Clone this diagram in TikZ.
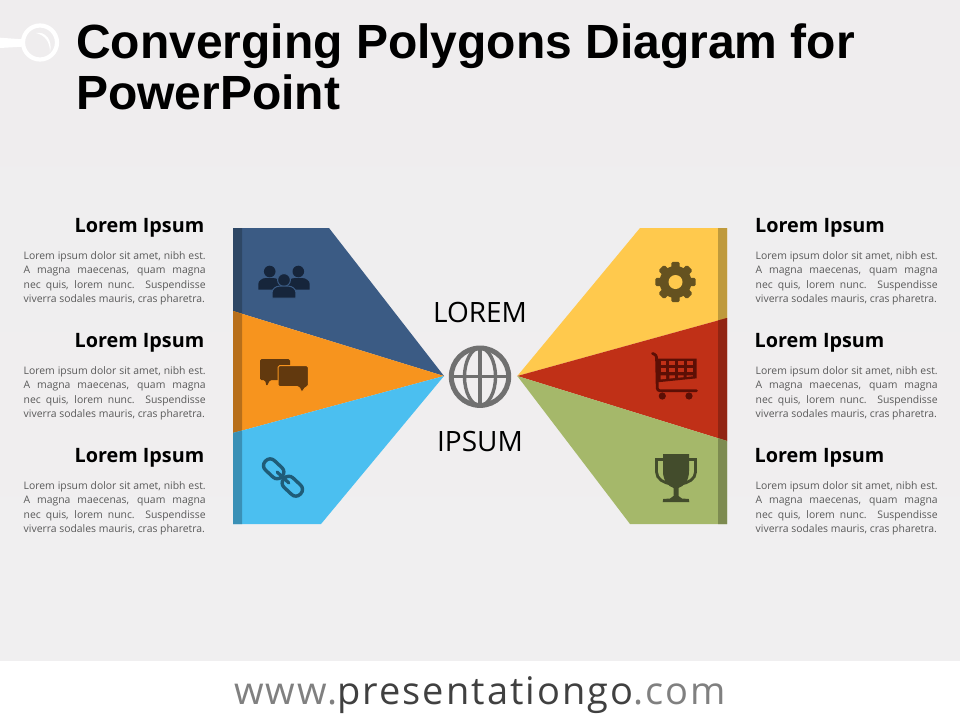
\documentclass[tikz,border=0pt]{standalone}
\usepackage{fontspec}
\setmainfont{Open Sans}
\newfontfamily\titlefont{Liberation Sans}
\definecolor{bgtop}{HTML}{EFEDEE}
\definecolor{bgbottom}{HTML}{F0EFF0}
\definecolor{navyfill}{HTML}{3B5B84}
\definecolor{navystrip}{HTML}{2E4765}
\definecolor{navyicon}{HTML}{16253B}
\definecolor{orangefill}{HTML}{F7941E}
\definecolor{orangestrip}{HTML}{B86F1A}
\definecolor{orangeicon}{HTML}{62390E}
\definecolor{skyfill}{HTML}{4BBFF0}
\definecolor{skystrip}{HTML}{3A90B6}
\definecolor{skyicon}{HTML}{1F5C78}
\definecolor{yellowfill}{HTML}{FFC94D}
\definecolor{yellowstrip}{HTML}{BF9A3C}
\definecolor{yellowicon}{HTML}{655220}
\definecolor{redfill}{HTML}{C03017}
\definecolor{redstrip}{HTML}{912412}
\definecolor{redicon}{HTML}{5C0F05}
\definecolor{greenfill}{HTML}{A5B86A}
\definecolor{greenstrip}{HTML}{7D8B50}
\definecolor{greenicon}{HTML}{434C2C}
\definecolor{globegrey}{HTML}{707070}
\definecolor{bodygrey}{HTML}{595959}
\newcommand{\loremtext}{\parfillskip=0pt Lorem ipsum dolor sit amet, nibh est.\linebreak A magna maecenas, quam magna\linebreak nec quis, lorem nunc. Suspendisse\linebreak viverra sodales mauris, cras pharetra.}
\tikzset{
headtext/.style={inner sep=0pt, font=\fontsize{19.8}{24}\selectfont\bfseries, text=black},
bodytext/.style={inner sep=0pt, anchor=north west, text width=182pt, align=justify, font=\fontsize{10.4}{14.5}\selectfont, text=bodygrey},
midtext/.style={inner sep=0pt, font=\fontsize{28}{34}\selectfont, text=black},
people/.pic={
  \fill[navyicon] (-14.3,-9.5) circle [radius=5.8];
  \fill[navyicon] (14.3,-9.5) circle [radius=5.8];
  \fill[navyicon] (-25.7,8.5) -- (-25.7,3) .. controls (-25.7,0) and (-22,-3) .. (-18,-3) -- (-11,-3) .. controls (-7,-3) and (-3,0) .. (-3,3) -- (-3,8.5) -- cycle;
  \fill[navyicon] (25.7,8.5) -- (25.7,3) .. controls (25.7,0) and (22,-3) .. (18,-3) -- (11,-3) .. controls (7,-3) and (3,0) .. (3,3) -- (3,8.5) -- cycle;
  \fill[navyicon, draw=navyfill, line width=1pt] (0,-1) circle [radius=6.4];
  \fill[navyicon, draw=navyfill, line width=1pt] (-11.8,17) -- (-11.8,11) .. controls (-11.8,8) and (-8,5.2) .. (-5,5.2) -- (5,5.2) .. controls (8,5.2) and (11.8,8) .. (11.8,11) -- (11.8,17) -- cycle;
  },
bubbles/.pic={
  \fill[orangeicon, rounded corners=1.5pt] (-24,-17) -- (6,-17) -- (6,4) -- (-14,4) -- (-17.3,10.5) -- (-19,4) -- (-24,4) -- cycle;
  \fill[orangeicon, draw=orangefill, line width=1pt, rounded corners=1.5pt] (-6,-10.3) -- (24.3,-10.3) -- (24.3,10.7) -- (22,10.7) -- (17.7,16.5) -- (15,10.7) -- (-6,10.7) -- cycle;
  },
chainlink/.pic={
  \draw[skyicon, line width=3.4pt, rounded corners=6pt, rotate=-43] (-24,-6.5) rectangle (-1.5,6.5);
  \draw[skyicon, line width=3.4pt, rounded corners=6pt, rotate=-43] (1.5,-6.5) rectangle (24,6.5);
  \draw[skyicon, line width=3.2pt, line cap=round, rotate=-43] (-8,0) -- (8,0);
  },
gear/.pic={
  \foreach \ang in {0,45,...,315} {
    \fill[yellowicon, rotate=\ang, rounded corners=1.5pt] (-4.2,-20.2) rectangle (4.2,0);
  }
  \fill[yellowicon] (0,0) circle [radius=16];
  \fill[yellowfill] (0,0) circle [radius=7];
  },
cart/.pic={
  \draw[redicon, line width=2.8pt, line cap=round, rounded corners=2.5pt] (-23.5,-26.5) -- (-19.5,-25) -- (-18.7,10.7) -- (20.5,10.7);
  \fill[redicon] (-18.7,-21.5) -- (20.7,-21.5) -- (20.7,-1.7) -- (-18.7,2.3) -- cycle;
  \foreach \cx/\cw in {-15.5/5.6,-6.7/5.6,2/5.6,10.7/6.2} {
    \fill[redfill] (\cx,-18.7) rectangle ++(\cw,3.9);
    \fill[redfill] (\cx,-11.7) rectangle ++(\cw,4);
  }
  \fill[redfill] (-15.5,-4.7) -- (-9.9,-4.7) -- (-9.9,-1.1) -- (-15.5,-0.6) -- cycle;
  \fill[redfill] (-6.7,-4.7) -- (-1.1,-4.7) -- (-1.1,-2) -- (-6.7,-1.4) -- cycle;
  \fill[redfill] (2,-4.7) -- (7.6,-4.7) -- (7.6,-2.8) -- (2,-2.3) -- cycle;
  \fill[redfill] (10.7,-4.7) -- (16.9,-4.7) -- (16.9,-3.7) -- (10.7,-3.1) -- cycle;
  \fill[redicon] (-13.7,16) circle [radius=3.6];
  \fill[redicon] (13,16) circle [radius=3.6];
  },
trophy/.pic={
  \draw[greenicon, line width=2.8pt] (-11,-18.5) -- (-19.5,-18.5) -- (-19.5,-6) .. controls (-19.5,1) and (-12,5) .. (-5,6);
  \draw[greenicon, line width=2.8pt] (11,-18.5) -- (19.5,-18.5) -- (19.5,-6) .. controls (19.5,1) and (12,5) .. (5,6);
  \fill[greenicon] (-13,-24) -- (13,-24) -- (13,-7) .. controls (13,3) and (8,8) .. (2.5,10) -- (2.5,18) -- (6,20.5) -- (12.8,21) -- (13.3,24) -- (-13.3,24) -- (-12.8,21) -- (-6,20.5) -- (-2.5,18) -- (-2.5,10) .. controls (-8,8) and (-13,3) .. (-13,-7) -- cycle;
  },
globe/.pic={
  \draw[globegrey, line width=5pt] (0,0) circle [radius=28.7];
  \draw[globegrey, line width=3.4pt] (0,0) ellipse [x radius=15.5, y radius=28.7];
  \draw[globegrey, line width=3.4pt] (0,-28.7) -- (0,28.7);
  \draw[globegrey, line width=3.4pt] (-28.7,0) -- (28.7,0);
  }
}
\begin{document}
\begin{tikzpicture}[x=1pt,y=-1pt]
\useasboundingbox (0,0) rectangle (960,720);
\shade[top color=bgtop, bottom color=bgbottom] (0,0) rectangle (960,661);
\fill[white] (0,661) rectangle (960,720);

\fill[white] (0,37.7) -- (22,39.3) -- (22,46.7) -- (0,48) -- cycle;
\draw[white, line width=4.2pt] (40,42.5) circle [radius=17];
\fill[white] (36,33) .. controls (45,31) and (53,40) .. (50,52) .. controls (50,42) and (45,35) .. (36,33);

\node[anchor=base west, inner sep=0pt, align=left, font=\titlefont\fontsize{48}{51}\selectfont\bfseries] (title) at (76,109) {Converging Polygons Diagram for\\PowerPoint};

\fill[navyfill] (233,228) -- (329,228) -- (444,376) -- (233,311) -- cycle;
\fill[navystrip] (233,228) -- (242,228) -- (242,313.8) -- (233,311) -- cycle;
\fill[orangefill] (233,311) -- (444,376) -- (233,433) -- cycle;
\fill[orangestrip] (233,311) -- (242,313.8) -- (242,430.6) -- (233,433) -- cycle;
\fill[skyfill] (233,433) -- (444,376) -- (321,524) -- (233,524) -- cycle;
\fill[skystrip] (233,433) -- (242,430.6) -- (242,524) -- (233,524) -- cycle;

\fill[yellowfill] (640,228) -- (727,228) -- (727,318) -- (517.3,376) -- cycle;
\fill[yellowstrip] (718,228) -- (727,228) -- (727,318) -- (718,320.5) -- cycle;
\fill[redfill] (727,318) -- (727,441) -- (517.3,376) -- cycle;
\fill[redstrip] (718,320.5) -- (727,318) -- (727,441) -- (718,438.2) -- cycle;
\fill[greenfill] (727,441) -- (727,524) -- (630,524) -- (517.3,376) -- cycle;
\fill[greenstrip] (718,438.2) -- (727,441) -- (727,524) -- (718,524) -- cycle;

\pic at (284,281) {people};
\pic at (284,376) {bubbles};
\pic at (283,477.5) {chainlink};
\pic at (675.5,282) {gear};
\pic at (676,380) {cart};
\pic at (676,478) {trophy};
\pic at (480,376.7) {globe};

\node[midtext, anchor=base] (lorem) at (480,322) {LOREM};
\node[midtext, anchor=base] (ipsum) at (480,451) {IPSUM};

\node[headtext, anchor=base east] (headA) at (204.5,232) {Lorem Ipsum};
\node[bodytext] (bodyA) at (23.5,251) {\loremtext};
\node[headtext, anchor=base east] (headB) at (204.5,347) {Lorem Ipsum};
\node[bodytext] (bodyB) at (23.5,366) {\loremtext};
\node[headtext, anchor=base east] (headC) at (204.5,462) {Lorem Ipsum};
\node[bodytext] (bodyC) at (23.5,481) {\loremtext};

\node[headtext, anchor=base west] (headD) at (755,232) {Lorem Ipsum};
\node[bodytext] (bodyD) at (755.5,251) {\loremtext};
\node[headtext, anchor=base west] (headE) at (754.5,347) {Lorem Ipsum};
\node[bodytext] (bodyE) at (755.5,366) {\loremtext};
\node[headtext, anchor=base west] (headF) at (754.5,462) {Lorem Ipsum};
\node[bodytext] (bodyF) at (755.5,481) {\loremtext};

\node[anchor=base, inner sep=0pt, font=\addfontfeature{LetterSpace=5.3}\fontsize{38}{44}\selectfont, text=gray] (site) at (480,704) {www.\textcolor{black!75}{presentationgo}.com};
\end{tikzpicture}
\end{document}
